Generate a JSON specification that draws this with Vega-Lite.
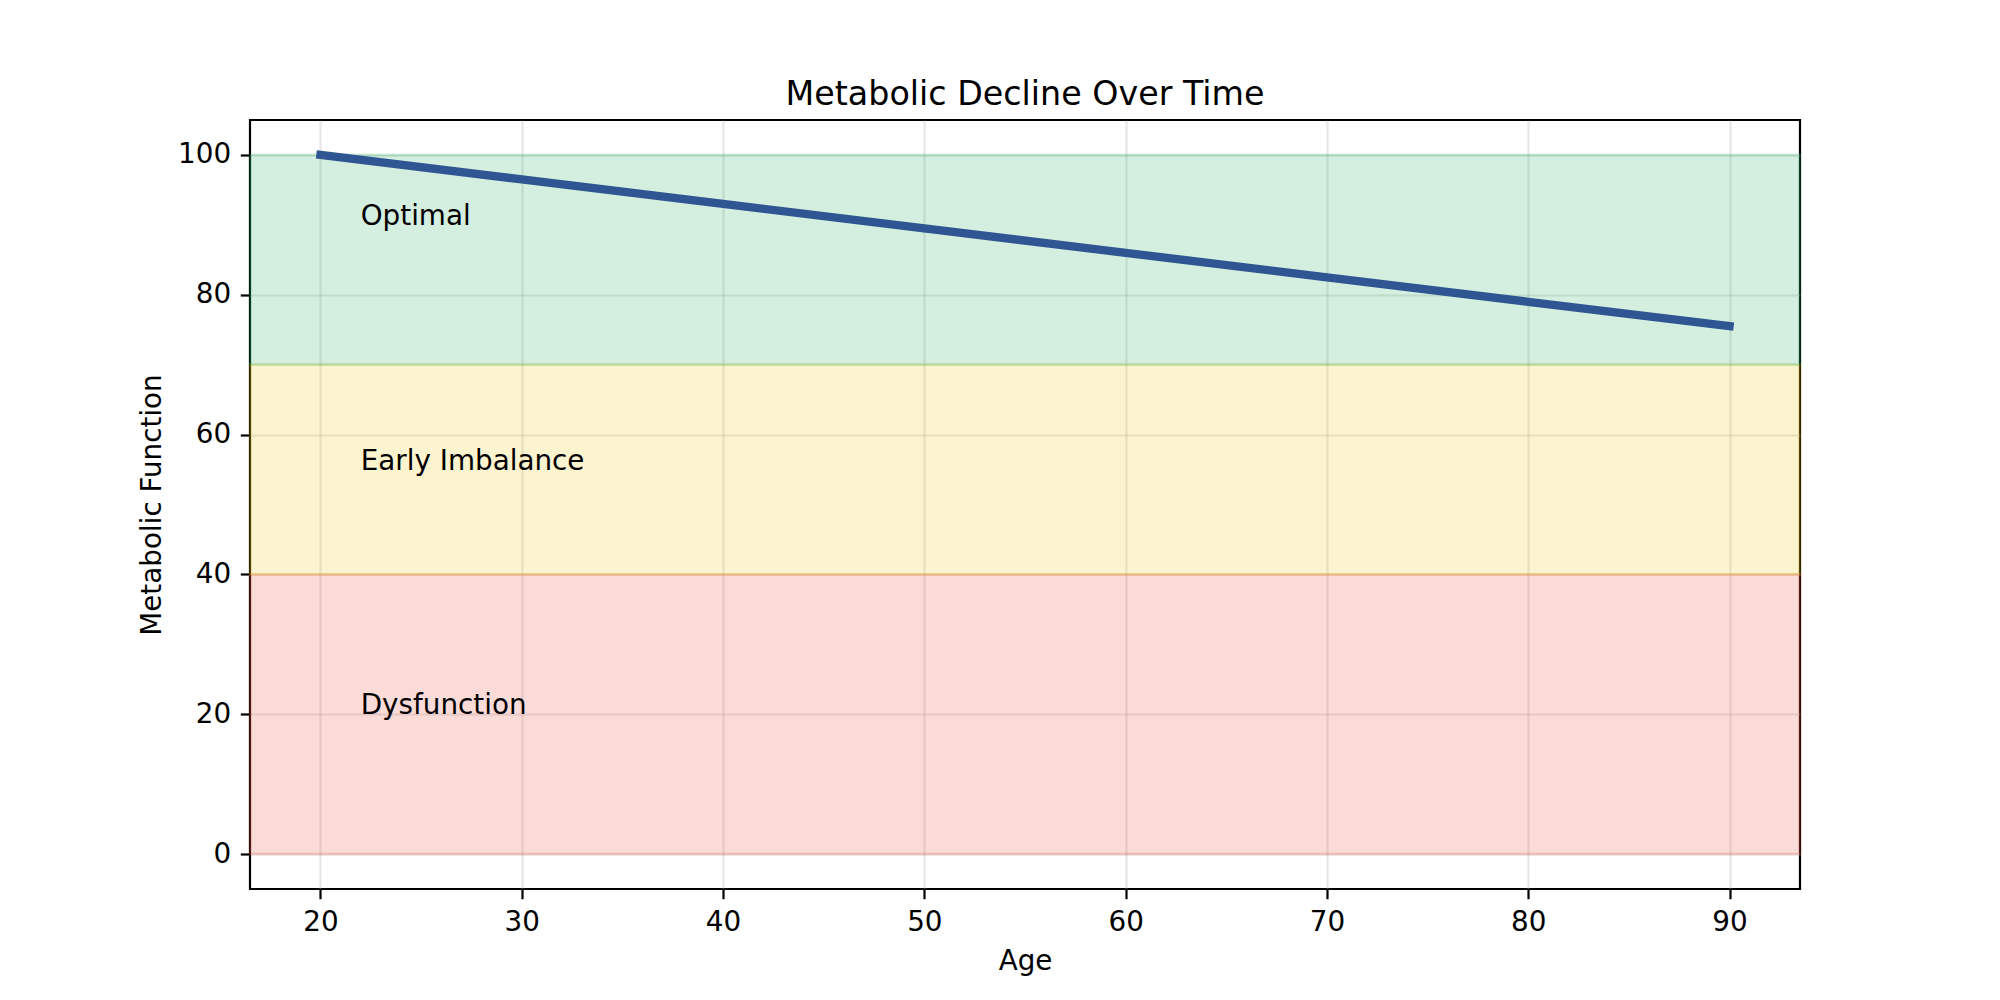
{
  "$schema": "https://vega.github.io/schema/vega-lite/v6.json",
  "width": 1550,
  "height": 769,
  "autosize": {"type": "none"},
  "padding": {"left": 250, "top": 120, "right": 200, "bottom": 111},
  "background": "white",
  "title": {
    "text": "Metabolic Decline Over Time",
    "fontSize": 33.3,
    "fontWeight": "normal",
    "font": "DejaVu Sans",
    "color": "black",
    "anchor": "middle",
    "frame": "group",
    "baseline": "alphabetic",
    "offset": -18
  },
  "datasets": {
    "zones": [
      {"zone": "Dysfunction", "low": 0, "high": 40, "lx": 22, "ly": 20},
      {"zone": "Early Imbalance", "low": 40, "high": 70, "lx": 22, "ly": 55},
      {"zone": "Optimal", "low": 70, "high": 100, "lx": 22, "ly": 90}
    ],
    "curve": [
      {"age": 20, "func": 100},
      {"age": 30, "func": 96.5},
      {"age": 40, "func": 93},
      {"age": 50, "func": 89.5},
      {"age": 60, "func": 86},
      {"age": 70, "func": 82.5},
      {"age": 80, "func": 79},
      {"age": 90, "func": 75.5}
    ]
  },
  "layer": [
    {
      "data": {"name": "zones"},
      "mark": {"type": "rect", "fillOpacity": 0.2, "strokeOpacity": 0.2, "strokeWidth": 2.8},
      "encoding": {
        "y": {"field": "low", "type": "quantitative", "title": "Metabolic Function",
              "scale": {"domain": [-5, 105], "nice": false, "zero": false},
              "axis": {"values": [0, 20, 40, 60, 80, 100]}},
        "y2": {"field": "high"},
        "fill": {"field": "zone", "type": "nominal", "legend": null,
                 "scale": {"domain": ["Dysfunction", "Early Imbalance", "Optimal"], "range": ["#e74c3c", "#f1c40f", "#27ae60"]}},
        "stroke": {"field": "zone", "type": "nominal", "legend": null,
                   "scale": {"domain": ["Dysfunction", "Early Imbalance", "Optimal"], "range": ["#e74c3c", "#f1c40f", "#27ae60"]}}
      }
    },
    {
      "data": {"name": "zones"},
      "mark": {"type": "text", "align": "left", "baseline": "alphabetic", "fontSize": 27.8, "font": "DejaVu Sans", "color": "black"},
      "encoding": {
        "x": {"field": "lx", "type": "quantitative", "title": "Age",
              "scale": {"domain": [16.5, 93.5], "nice": false, "zero": false},
              "axis": {"values": [20, 30, 40, 50, 60, 70, 80, 90]}},
        "y": {"field": "ly", "type": "quantitative", "title": "Metabolic Function"},
        "text": {"field": "zone"}
      }
    },
    {
      "data": {"name": "curve"},
      "mark": {"type": "line", "color": "#2f5592", "strokeWidth": 8.3, "strokeCap": "square"},
      "encoding": {
        "x": {"field": "age", "type": "quantitative", "title": "Age"},
        "y": {"field": "func", "type": "quantitative", "title": "Metabolic Function"}
      }
    }
  ],
  "config": {
    "view": {"stroke": "black", "strokeWidth": 2.2},
    "axis": {
      "domain": false,
      "grid": true,
      "gridColor": "#b0b0b0",
      "gridOpacity": 0.3,
      "gridWidth": 2.2,
      "tickColor": "black",
      "tickSize": 9.7,
      "tickWidth": 2.2,
      "labelFont": "DejaVu Sans",
      "labelFontSize": 27.8,
      "labelColor": "black",
      "labelPadding": 9.7,
      "titleFont": "DejaVu Sans",
      "titleFontSize": 27.8,
      "titleFontWeight": "normal",
      "titleColor": "black",
      "titlePadding": 11
    }
  }
}
